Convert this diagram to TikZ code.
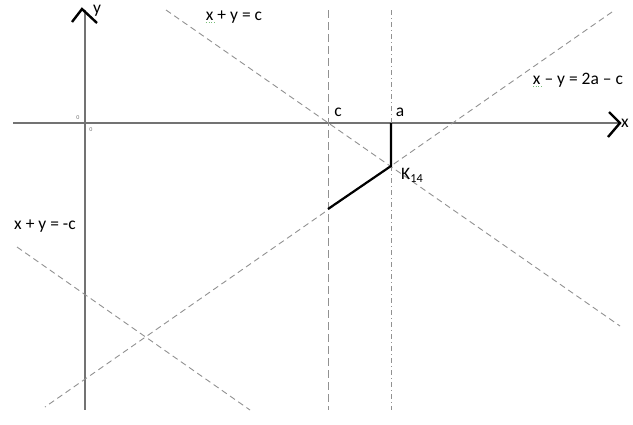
\documentclass[tikz,border=0pt]{standalone}
\usepackage{fontspec}
\setmainfont{Carlito}
\usetikzlibrary{positioning,calc}
\definecolor{AXIS-GRAY}{RGB}{115, 115, 115}
\definecolor{DASH-GRAY}{RGB}{145, 145, 145}
\definecolor{SPELL-GREEN}{RGB}{120, 190, 120}

\begin{document}
\begin{tikzpicture}[x=1pt,y=-1pt,
  axisline/.style={AXIS-GRAY, line width=1.1pt},
  dashline/.style={DASH-GRAY, line width=0.9pt, dash pattern=on 6pt off 4pt},
  chevron/.style={black, line width=2.4pt, line join=miter},
  boundline/.style={black, line width=2.2pt},
  lbl/.style={font=\fontsize{17.5}{20}\selectfont, inner sep=1pt},
  spell/.style={SPELL-GREEN, line width=0.8pt, dotted},
  tiny/.style={AXIS-GRAY, font=\fontsize{6}{7}\selectfont, inner sep=0pt}]
  \useasboundingbox (0,0) rectangle (633,424);

  % Axes
  \coordinate (O) at (85,123);
  \coordinate (xL) at (13,123);
  \coordinate (xR) at (619,123);
  \coordinate (yT) at (85,10);
  \coordinate (yB) at (85,410);
  \draw[axisline] (xL) -- (xR);
  \draw[axisline] (yT) -- (yB);
  \draw[chevron] (609,112) coordinate (xa1) -- (620,123) coordinate (xa2) -- (608,137) coordinate (xa3);
  \draw[chevron] (72,22) coordinate (ya1) -- (82,9) coordinate (ya2) -- (97,23) coordinate (ya3);
  \node[lbl, right=0pt of xa2] (xlabel) {x};
  \node[lbl] (ylabel) at (97,11) {y};
  \node[tiny] (zeroA) at (78,118) {0};
  \node[tiny] (zeroB) at (91,130) {0};

  % Vertical lines x = c and x = a
  \coordinate (cT) at (328,10);
  \coordinate (cB) at (328,410);
  \coordinate (aT) at (391,10);
  \coordinate (aB) at (391,410);
  \draw[DASH-GRAY, line width=0.9pt, dash pattern=on 8pt off 4pt] (cT) -- (cB);
  \draw[DASH-GRAY, line width=0.9pt, dash pattern=on 5pt off 3pt on 1pt off 3pt] (aT) -- (aB);
  \node[lbl] (clabel) at (338,112) {c};
  \node[lbl] (alabel) at (400,112) {a};

  % Line x + y = c
  \coordinate (pT) at (166,10);
  \coordinate (pB) at (620,326);
  \draw[dashline] (pT) -- (pB);
  \node[lbl] (plabel) at (234,17) {x + y = c};

  % Line x - y = 2a - c
  \coordinate (mT) at (612,12);
  \coordinate (mB) at (45,407);
  \draw[dashline] (mT) -- (mB);
  \node[lbl] (mlabel) at (578,80) {x – y = 2a – c};

  % Line x + y = -c
  \coordinate (nT) at (17,247);
  \coordinate (nB) at (250,410);
  \draw[dashline] (nT) -- (nB);
  \node[lbl] (nlabel) at (45,226) {x + y = -c};

  % Spell-check marks under x
  \draw[spell] ($(plabel.south west)+(1,-2)$) -- ++(9,0);
  \draw[spell] ($(mlabel.south west)+(1,-2)$) -- ++(9,0);

  % Boundary path a -> K14 -> c
  \coordinate (A) at (391,123);
  \coordinate (K) at (391,166);
  \coordinate (B) at (328,209);
  \draw[boundline] (A) -- (K) -- (B);
  \node[lbl, below right=1pt and 9pt of K] (klabel) {K\textsubscript{14}};
\end{tikzpicture}
\end{document}
